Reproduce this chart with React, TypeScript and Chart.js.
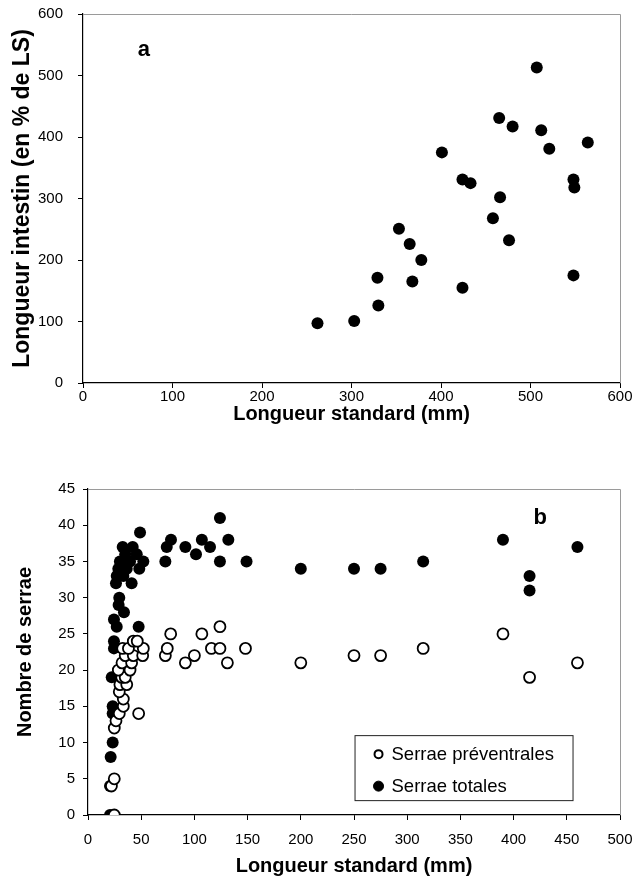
import React, { useEffect, useRef } from "react";
import { Chart, registerables } from "chart.js";

Chart.register(...registerables);

const FONT = "'Liberation Sans', Arial, Helvetica, sans-serif";

// ---- Chart a : intestine length vs standard length ----
const aStandardLength = [262, 303, 330, 329, 353, 365, 368, 378, 401, 424, 424, 433, 458, 465, 466, 476, 480, 507, 512, 521, 548, 549, 548, 564];
const aIntestinePct = [97, 101, 126, 171, 251, 226, 165, 200, 375, 155, 331, 325, 268, 431, 302, 232, 417, 513, 411, 381, 331, 318, 175, 391];
const aXTicks = [0, 100, 200, 300, 400, 500, 600];
const aYTicks = [0, 100, 200, 300, 400, 500, 600];

// ---- Chart b : serrae count vs standard length ----
const prevLength = [24.7, 22, 24.7, 24.7, 26.3, 29.4, 47.6, 33.2, 33.2, 29.4, 30, 36.4, 31.7, 35, 28.5, 39.5, 32, 41, 35, 42.6, 51.4, 32.6, 52, 38, 42.6, 46.3, 72.7, 74.5, 77.7, 91.5, 100, 107, 116, 124, 124, 131, 148, 200, 250, 275, 315, 390, 415, 460];
const prevCount = [0, 4, 5, 12, 13, 14, 14, 15, 16, 17, 18, 18, 19, 19, 20, 20, 21, 21, 22, 22, 22, 23, 23, 23, 24, 24, 22, 23, 25, 21, 22, 25, 23, 23, 26, 21, 23, 21, 22, 22, 23, 25, 19, 21];
const totLength = [20.7, 20.7, 21.3, 23.2, 23.2, 23.2, 22.3, 24.4, 24.4, 27, 24.4, 33.8, 28.8, 29.4, 26.3, 41, 27, 33.2, 28.5, 36.4, 48.2, 30, 39.5, 52, 35, 45.8, 32.6, 42, 48.9, 47.6, 72.7, 74, 78, 91.5, 101.5, 107, 114.7, 124, 124, 131.9, 149, 200, 250, 275, 315, 390, 415, 415, 460];
const totCount = [0, 4, 8, 10, 14, 15, 19, 23, 24, 26, 27, 28, 29, 30, 32, 32, 33, 33, 34, 34, 34, 35, 35, 35, 36, 36, 37, 37, 39, 26, 35, 37, 38, 37, 36, 38, 37, 35, 41, 38, 35, 34, 34, 34, 35, 38, 33, 31, 37];
const bXTicks = [0, 50, 100, 150, 200, 250, 300, 350, 400, 450, 500];
const bYTicks = [0, 5, 10, 15, 20, 25, 30, 35, 40, 45];

const seriesLabels = ["Serrae préventrales", "Serrae totales"];

const toPts = (xs: number[], ys: number[]) => xs.map((x, i) => ({ x, y: ys[i] }));

const framePlugin = {
  id: "frame",
  afterDraw(chart: any) {
    const { ctx, chartArea: a } = chart;
    ctx.save();
    ctx.strokeStyle = "#9a9a9a";
    ctx.lineWidth = 1;
    ctx.beginPath();
    ctx.moveTo(a.left, a.top + 0.5);
    ctx.lineTo(a.right + 0.5, a.top + 0.5);
    ctx.lineTo(a.right + 0.5, a.bottom);
    ctx.stroke();
    ctx.restore();
  },
};

const panelLetter = (letter: string, xv: number, yv: number) => ({
  id: "letter_" + letter,
  afterDraw(chart: any) {
    const { ctx, scales } = chart;
    ctx.save();
    ctx.font = `bold 22px ${FONT}`;
    ctx.fillStyle = "#000";
    ctx.textAlign = "center";
    ctx.textBaseline = "middle";
    ctx.fillText(letter, scales.x.getPixelForValue(xv), scales.y.getPixelForValue(yv));
    ctx.restore();
  },
});

const boxLegend = {
  id: "boxLegend",
  afterDraw(chart: any) {
    const { ctx, chartArea: a } = chart;
    const left = a.left + (a.right - a.left) * 0.501;
    const top = a.top + (a.bottom - a.top) * 0.755;
    const w = 218;
    const h = 65;
    ctx.save();
    ctx.fillStyle = "#fff";
    ctx.strokeStyle = "#222";
    ctx.lineWidth = 1;
    ctx.fillRect(left, top, w, h);
    ctx.strokeRect(left + 0.5, top + 0.5, w, h);
    ctx.font = `18.5px ${FONT}`;
    ctx.textBaseline = "middle";
    ctx.textAlign = "left";
    chart.data.datasets.forEach((ds: any, i: number) => {
      const cy = top + 19 + i * 32;
      const cx = left + 24;
      ctx.beginPath();
      ctx.arc(cx, cy, i === 0 ? 4 : 5, 0, Math.PI * 2);
      ctx.fillStyle = ds.pointBackgroundColor;
      ctx.fill();
      ctx.lineWidth = i === 0 ? 2 : 1;
      ctx.strokeStyle = "#000";
      ctx.stroke();
      ctx.fillStyle = "#000";
      ctx.fillText(ds.label, cx + 13, cy + 1);
    });
    ctx.restore();
  },
};

function axis(opts: {
  min: number; max: number; step: number; title: string; titlePad: any; size: number;
  isX: boolean; tickPad: number; titleSize?: number;
}) {
  return {
    type: "linear",
    min: opts.min,
    max: opts.max,
    ticks: {
      stepSize: opts.step,
      color: "#000",
      padding: opts.tickPad,
      font: { size: 15, family: FONT },
      maxRotation: 0,
      autoSkip: false,
    },
    grid: { drawOnChartArea: false, tickLength: 5, color: "#000", tickColor: "#000", tickWidth: 1 },
    border: { color: "#000", width: 1.2 },
    title: {
      display: true,
      text: opts.title,
      color: "#000",
      font: { size: opts.titleSize || 20, weight: "bold", family: FONT },
      padding: opts.titlePad,
    },
    afterFit: (s: any) => {
      if (opts.isX) s.height = opts.size;
      else s.width = opts.size;
      s.paddingTop = 0;
      s.paddingBottom = 0;
      s.paddingLeft = 0;
      s.paddingRight = 0;
    },
  };
}

function ChartA() {
  const ref = useRef<HTMLCanvasElement>(null);
  useEffect(() => {
    const c = new Chart(ref.current as HTMLCanvasElement, {
      type: "scatter",
      data: {
        datasets: [
          {
            label: "Longueur intestin",
            data: toPts(aStandardLength, aIntestinePct),
            pointRadius: 6,
            pointBackgroundColor: "#000",
            pointBorderColor: "#000",
            pointBorderWidth: 0,
          },
        ],
      },
      options: {
        responsive: false,
        animation: false,
        devicePixelRatio: 1,
        layout: { padding: { top: 14, right: 15, left: 0, bottom: 0 } },
        plugins: { legend: { display: false }, tooltip: { enabled: false } },
        scales: {
          x: {
            ...axis({ min: 0, max: 600, step: 100, title: "Longueur standard (mm)", titlePad: { bottom: 14 }, size: 57, isX: true, tickPad: 0 }),
            afterBuildTicks: (s: any) => { s.ticks = aXTicks.map((v) => ({ value: v })); },
          },
          y: {
            ...axis({ min: 0, max: 600, step: 100, title: "Longueur intestin (en % de LS)", titlePad: { top: 9 }, size: 83, isX: false, tickPad: 15, titleSize: 23 }),
            afterBuildTicks: (s: any) => { s.ticks = aYTicks.map((v) => ({ value: v })); },
          },
        },
      } as any,
      plugins: [framePlugin, panelLetter("a", 68, 541)],
    });
    return () => c.destroy();
  }, []);
  return <canvas ref={ref} width={635} height={440} style={{ position: "absolute", left: 0, top: 0 }} />;
}

function ChartB() {
  const ref = useRef<HTMLCanvasElement>(null);
  useEffect(() => {
    const c = new Chart(ref.current as HTMLCanvasElement, {
      type: "scatter",
      data: {
        datasets: [
          {
            label: seriesLabels[0],
            data: toPts(prevLength, prevCount),
            pointRadius: 5.5,
            pointBackgroundColor: "#fff",
            pointBorderColor: "#000",
            pointBorderWidth: 1.8,
          },
          {
            label: seriesLabels[1],
            data: toPts(totLength, totCount),
            pointRadius: 6,
            pointBackgroundColor: "#000",
            pointBorderColor: "#000",
            pointBorderWidth: 0,
          },
        ],
      },
      options: {
        responsive: false,
        animation: false,
        devicePixelRatio: 1,
        layout: { padding: { top: 49, right: 15, left: 0, bottom: 0 } },
        plugins: { legend: { display: false }, tooltip: { enabled: false } },
        scales: {
          x: {
            ...axis({ min: 0, max: 500, step: 50, title: "Longueur standard (mm)", titlePad: { bottom: 4 }, size: 67, isX: true, tickPad: 11 }),
            afterBuildTicks: (s: any) => { s.ticks = bXTicks.map((v) => ({ value: v })); },
          },
          y: {
            ...axis({ min: 0, max: 45, step: 5, title: "Nombre de serrae", titlePad: { top: 13 }, size: 88, isX: false, tickPad: 8 }),
            afterBuildTicks: (s: any) => { s.ticks = bYTicks.map((v) => ({ value: v })); },
          },
        },
      } as any,
      plugins: [framePlugin, panelLetter("b", 425, 41), boxLegend],
    });
    return () => c.destroy();
  }, []);
  return <canvas ref={ref} width={635} height={442} style={{ position: "absolute", left: 0, top: 440 }} />;
}

export default function App() {
  return (
    <div style={{ position: "absolute", left: 0, top: 0, width: 635, height: 882, background: "#fff", overflow: "hidden" }}>
      <ChartA />
      <ChartB />
    </div>
  );
}
